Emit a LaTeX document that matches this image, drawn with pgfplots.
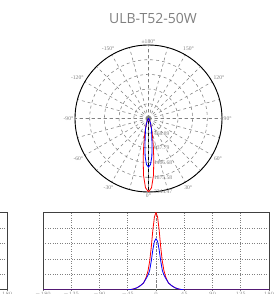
\documentclass[border=0pt]{standalone}
\usepackage{fontspec}
\usepackage{pgfplots}
\usepackage{pgfplotstable}
\pgfplotsset{compat=1.18}
\usepgfplotslibrary{polar}
\newfontfamily\titlefont{Open Sans}
\newfontfamily\lblfont{Liberation Serif}

\pgfplotstableread{
ang val
-180 0
-90 0
-50 0
-45 3
-40 15
-35 35
-30 70
-25 130
-20 210
-17.5 300
-15 420
-12.5 600
-10 880
-7.5 1300
-5 1820
-2.5 2210
0 2344
2.5 2210
5 1820
7.5 1300
10 880
12.5 600
15 420
17.5 300
20 210
25 130
30 70
35 35
40 15
45 3
50 0
90 0
180 0
}\redtab

\pgfplotstableread{
ang val
-180 0
-90 0
-50 0
-45 3
-40 15
-35 35
-30 70
-25 130
-20 210
-17.5 290
-15 370
-12.5 460
-10 600
-7.5 880
-5 1220
-2.5 1470
0 1550
2.5 1470
5 1220
7.5 880
10 600
12.5 460
15 370
17.5 290
20 210
25 130
30 70
35 35
40 15
45 3
50 0
90 0
180 0
}\bluetab

\begin{document}
\begin{tikzpicture}
\useasboundingbox (0pt,0pt) rectangle (277pt,294pt);
\clip (0pt,0pt) rectangle (277pt,294pt);
\node[font=\titlefont\fontsize{14}{16}\selectfont, text=gray] at (153pt,275.5pt) {ULB-T52-50W};

\begin{polaraxis}[
  at={(148.5pt,175.5pt)}, anchor=center,
  width=147pt, height=147pt, scale only axis,
  xmin=-90, xmax=270,
  ymin=0, ymax=2344.5,
  xtick={-90,-60,...,240},
  xticklabels={0°,30°,60°,90°,120°,150°,±180°,-150°,-120°,-90°,-60°,-30°},
  minor xtick={-75,-45,...,255},
  ytick={468.895,937.79,1406.685,1875.58,2344.475},
  yticklabels={468.89,937.79,1406.68,1875.58,2344.47},
  grid=both,
  major grid style={dashed, gray, line width=0.55pt},
  minor grid style={dashed, gray, line width=0.55pt},
  extra x ticks={-90,0,90,180},
  extra x tick labels={},
  extra x tick style={grid style={solid, darkgray, line width=1pt}},
  axis line style={black, line width=0.9pt},
  tick style={draw=none},
  x filter/.expression={x-90},
  xticklabel style={font=\lblfont\fontsize{5.6}{6}\selectfont, text=gray, inner sep=1.5pt},
  yticklabel style={font=\lblfont\fontsize{5.6}{6}\selectfont, text=gray, anchor=west, xshift=2pt},
]
\addplot[red, line width=0.8pt, no marks] table[x=ang, y=val] {\redtab};
\addplot[blue, line width=0.8pt, no marks] table[x=ang, y=val] {\bluetab};
\end{polaraxis}

\begin{axis}[
  at={(43pt,4pt)}, anchor=south west,
  width=226pt, height=77.5pt, scale only axis,
  xmin=-180, xmax=180, ymin=0, ymax=2344.5,
  xtick={-180,-135,...,180},
  ytick={468.9,937.8,1406.7,1875.6,2344.5},
  yticklabels={},
  grid=major,
  major grid style={dotted, gray, line width=0.7pt},
  extra x ticks={0}, extra x tick labels={},
  extra x tick style={grid style={solid, gray, line width=0.8pt}},
  axis line style={draw=darkgray, line width=1pt},
  tick style={draw=none},
  xticklabel style={font=\lblfont\fontsize{3}{3}\selectfont, text=gray},
  xticklabel shift=-1pt,
]
\addplot[red, line width=0.8pt, no marks] table[x=ang, y=val] {\redtab};
\addplot[blue, line width=0.8pt, no marks] table[x=ang, y=val] {\bluetab};
\end{axis}

\begin{axis}[
  at={(7.3pt,4pt)}, anchor=south east,
  width=226pt, height=77.5pt, scale only axis,
  xmin=-180, xmax=180, ymin=0, ymax=2344.5,
  xtick={-180,-135,...,180},
  ytick={468.9,937.8,1406.7,1875.6,2344.5},
  yticklabels={},
  grid=major,
  major grid style={dotted, gray, line width=0.7pt},
  axis line style={draw=darkgray, line width=1pt},
  tick style={draw=none},
  xticklabel style={font=\lblfont\fontsize{3}{3}\selectfont, text=gray},
  xticklabel shift=-1pt,
]
\end{axis}
\end{tikzpicture}
\end{document}
